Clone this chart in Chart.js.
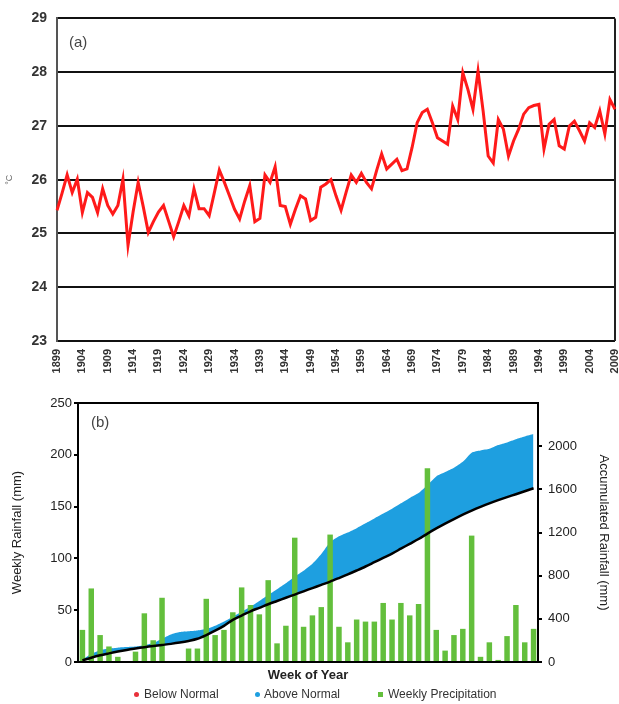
<!DOCTYPE html>
<html><head><meta charset="utf-8">
<script src="https://cdn.jsdelivr.net/npm/chart.js@4.4.0/dist/chart.umd.min.js"></script>
<style>
html,body{margin:0;padding:0;background:#fff;width:619px;height:704px;overflow:hidden;position:relative;}
#cA{position:absolute;left:0;top:0;}
#cB{position:absolute;left:0;top:388px;}
#legend{position:absolute;top:686px;left:0;width:619px;height:16px;font:12px 'Liberation Sans',Arial,sans-serif;color:#333;}
.li{position:absolute;top:0;line-height:16px;white-space:nowrap;}
.mk{position:absolute;width:5px;height:5px;top:6px;}
</style></head><body>
<canvas id="cA" width="619" height="388"></canvas>
<canvas id="cB" width="619" height="316"></canvas>
<div id="legend">
  <span class="mk" style="left:134px;background:#e8303a;border-radius:50%"></span><span class="li" style="left:144px">Below Normal</span>
  <span class="mk" style="left:255px;background:#1e9fe0;border-radius:50%"></span><span class="li" style="left:264px">Above Normal</span>
  <span class="mk" style="left:378px;background:#63bf3c"></span><span class="li" style="left:388px">Weekly Precipitation</span>
</div>
<script>
// ---- Panel (a): annual mean temperature (°C), 1899-2009 ----
const startYear = 1899;
const tempC = [
 25.43,25.75,26.09,25.76,26.01,25.39,25.76,25.67,25.39,25.83,
 25.52,25.36,25.52,26.01,24.78,25.40,25.95,25.50,25.02,25.22,
 25.40,25.52,25.23,24.94,25.22,25.52,25.33,25.83,25.46,25.46,
 25.33,25.75,26.18,25.95,25.70,25.45,25.27,25.60,25.89,25.22,
 25.28,26.09,25.95,26.24,25.52,25.50,25.17,25.45,25.70,25.64,
 25.24,25.30,25.86,25.92,26.00,25.70,25.43,25.77,26.09,25.95,
 26.12,25.95,25.83,26.17,26.48,26.20,26.29,26.38,26.17,26.20,
 26.60,27.06,27.25,27.31,27.06,26.78,26.72,26.66,27.37,27.12,
 27.99,27.68,27.31,28.02,27.28,26.44,26.31,27.12,26.94,26.44,
 26.72,26.94,27.22,27.34,27.38,27.40,26.57,27.03,27.12,26.63,
 26.57,27.00,27.09,26.91,26.72,27.06,26.97,27.28,26.85,27.49,
 27.31
];
const years = tempC.map((_, i) => String(startYear + i));
const tempTicks = [23, 24, 25, 26, 27, 28, 29];

// ---- Panel (b): weekly rainfall (mm) and accumulated rainfall (mm) ----
const weekLabels = Array.from({length: 52}, (_, i) => 'Week ' + (i + 1));
const weeklyRain = [
 31,71,26,15,5,0,10,47,21,62,
 0,0,13,13,61,26,31,48,72,55,
 46,79,18,35,120,34,45,53,123,34,
 19,41,39,39,57,41,57,45,56,187,
 31,11,26,32,122,5,19,2,25,55,
 19,32
];
const normalAccum = [
 15,40,62,80,97,112,125,137,148,158,
 168,180,195,215,250,290,335,390,430,470,
 502,535,565,595,625,655,685,715,745,778,
 812,848,885,925,965,1005,1050,1095,1140,1190,
 1238,1283,1325,1365,1402,1437,1470,1500,1528,1555,
 1582,1610
];
const actualAccum = [
 25,75,110,125,133,138,143,155,175,215,
 255,278,285,292,305,335,375,420,465,512,
 565,620,675,730,790,845,910,1000,1110,1165,
 1200,1240,1285,1330,1375,1420,1470,1520,1565,1640,
 1720,1760,1800,1855,1940,1960,1975,2010,2035,2065,
 2090,2112
];

const sans = "'Liberation Sans', Arial, sans-serif";
const narrow = "'Liberation Sans Narrow', 'Liberation Sans', Arial, sans-serif";

const frameA = {
  id: 'frameA',
  beforeDatasetsDraw(chart) {
    const {ctx, chartArea: a} = chart;
    ctx.save();
    ctx.strokeStyle = '#222';
    ctx.lineWidth = 2;
    ctx.beginPath();
    ctx.moveTo(a.right, a.top);
    ctx.lineTo(a.right, a.bottom);
    ctx.stroke();
    ctx.fillStyle = '#444';
    ctx.font = "15px " + sans;
    ctx.textBaseline = 'middle';
    ctx.fillText('(a)', a.left + 12, a.top + 24);
    ctx.restore();
  }
};

new Chart(document.getElementById('cA'), {
  type: 'line',
  data: {labels: years, datasets: [{
    data: tempC, borderColor: '#ff1a1a', borderWidth: 3, pointRadius: 0, tension: 0, fill: false
  }]},
  options: {
    responsive: false, animation: false, events: [],
    layout: {padding: {top: 17, right: 4, left: 0, bottom: 0}},
    plugins: {legend: {display: false}, tooltip: {enabled: false}},
    scales: {
      x: {
        type: 'category', offset: false,
        grid: {display: false}, border: {display: false},
        ticks: {autoSkip: false, maxRotation: 90, minRotation: 90, padding: 0, color: '#333',
          font: {family: narrow, size: 11, weight: 'bold'},
          callback: (v, i) => ((i % 5 === 0) ? years[i] : null)},
        afterFit: s => { s.height = 47; s.paddingLeft = 0; s.paddingRight = 0; }
      },
      y: {
        min: tempTicks[0], max: tempTicks[tempTicks.length - 1],
        afterBuildTicks: s => { s.ticks = tempTicks.map(v => ({value: v})); },
        ticks: {padding: 10, color: '#333', font: {family: narrow, size: 14, weight: 'bold'}},
        grid: {color: '#111', lineWidth: 2, drawTicks: false},
        border: {display: true, color: '#555', width: 2},
        title: {display: true, text: '°C', color: '#666', font: {family: sans, size: 9}, padding: {top: 4, bottom: 0}},
        afterFit: s => { s.width = 57; }
      }
    }
  },
  plugins: [frameA]
});

const frameB = {
  id: 'frameB',
  afterDraw(chart) {
    const {ctx, chartArea: a} = chart;
    ctx.save();
    ctx.strokeStyle = '#000';
    ctx.lineWidth = 2;
    ctx.beginPath();
    ctx.moveTo(a.left, a.top);
    ctx.lineTo(a.right, a.top);
    ctx.stroke();
    ctx.fillStyle = '#444';
    ctx.font = "15px " + sans;
    ctx.textBaseline = 'middle';
    ctx.fillText('(b)', a.left + 13, a.top + 20);
    ctx.restore();
  }
};

new Chart(document.getElementById('cB'), {
  type: 'bar',
  data: {labels: weekLabels, datasets: [
    {type: 'bar', label: 'Weekly Precipitation', data: weeklyRain, yAxisID: 'y',
     backgroundColor: '#63bf3c', borderWidth: 0, barPercentage: 0.62, categoryPercentage: 1, order: 2},
    {type: 'line', label: 'Normal', data: normalAccum, yAxisID: 'y2',
     borderColor: '#000', borderWidth: 2.5, pointRadius: 0, tension: 0.3, fill: false, order: 1},
    {type: 'line', label: 'Accumulated', data: actualAccum, yAxisID: 'y2',
     borderColor: 'rgba(0,0,0,0)', borderWidth: 0, pointRadius: 0, tension: 0.2,
     fill: {target: 1, above: '#1e9fe0', below: '#e8303a'}, order: 3}
  ]},
  options: {
    responsive: false, animation: false, events: [],
    layout: {padding: {top: 15, right: 0, left: 0, bottom: 0}},
    plugins: {legend: {display: false}, tooltip: {enabled: false}},
    scales: {
      x: {
        type: 'category', offset: true,
        grid: {display: false}, border: {display: true, color: '#000', width: 2},
        ticks: {display: false},
        title: {display: true, text: 'Week of Year', color: '#222',
          font: {family: sans, size: 13, weight: 'bold'}, padding: {top: 0, bottom: 21}},
        afterFit: s => { s.height = 42; }
      },
      y: {
        position: 'left', min: 0, max: 250,
        ticks: {stepSize: 50, padding: 2, color: '#222', font: {family: sans, size: 13}},
        grid: {display: true, drawOnChartArea: false, drawTicks: true, tickLength: 4, color: '#000', lineWidth: 2},
        border: {display: true, color: '#000', width: 2},
        title: {display: true, text: 'Weekly Rainfall (mm)', color: '#222', font: {family: sans, size: 13}, padding: {top: 10, bottom: 0}},
        afterFit: s => { s.width = 78; }
      },
      y2: {
        position: 'right', min: 0, max: 2400,
        ticks: {stepSize: 400, padding: 6, color: '#222', font: {family: sans, size: 13},
          callback: v => (v === 2400 ? null : String(v))},
        grid: {display: true, drawOnChartArea: false, drawTicks: true, tickLength: 4, color: '#000', lineWidth: 2},
        border: {display: true, color: '#000', width: 2},
        title: {display: true, text: 'Accumulated Rainfall (mm)', color: '#222', font: {family: sans, size: 13}, padding: {top: 8, bottom: 0}},
        afterFit: s => { s.width = 81; }
      }
    }
  },
  plugins: [frameB]
});
</script>
</body></html>
